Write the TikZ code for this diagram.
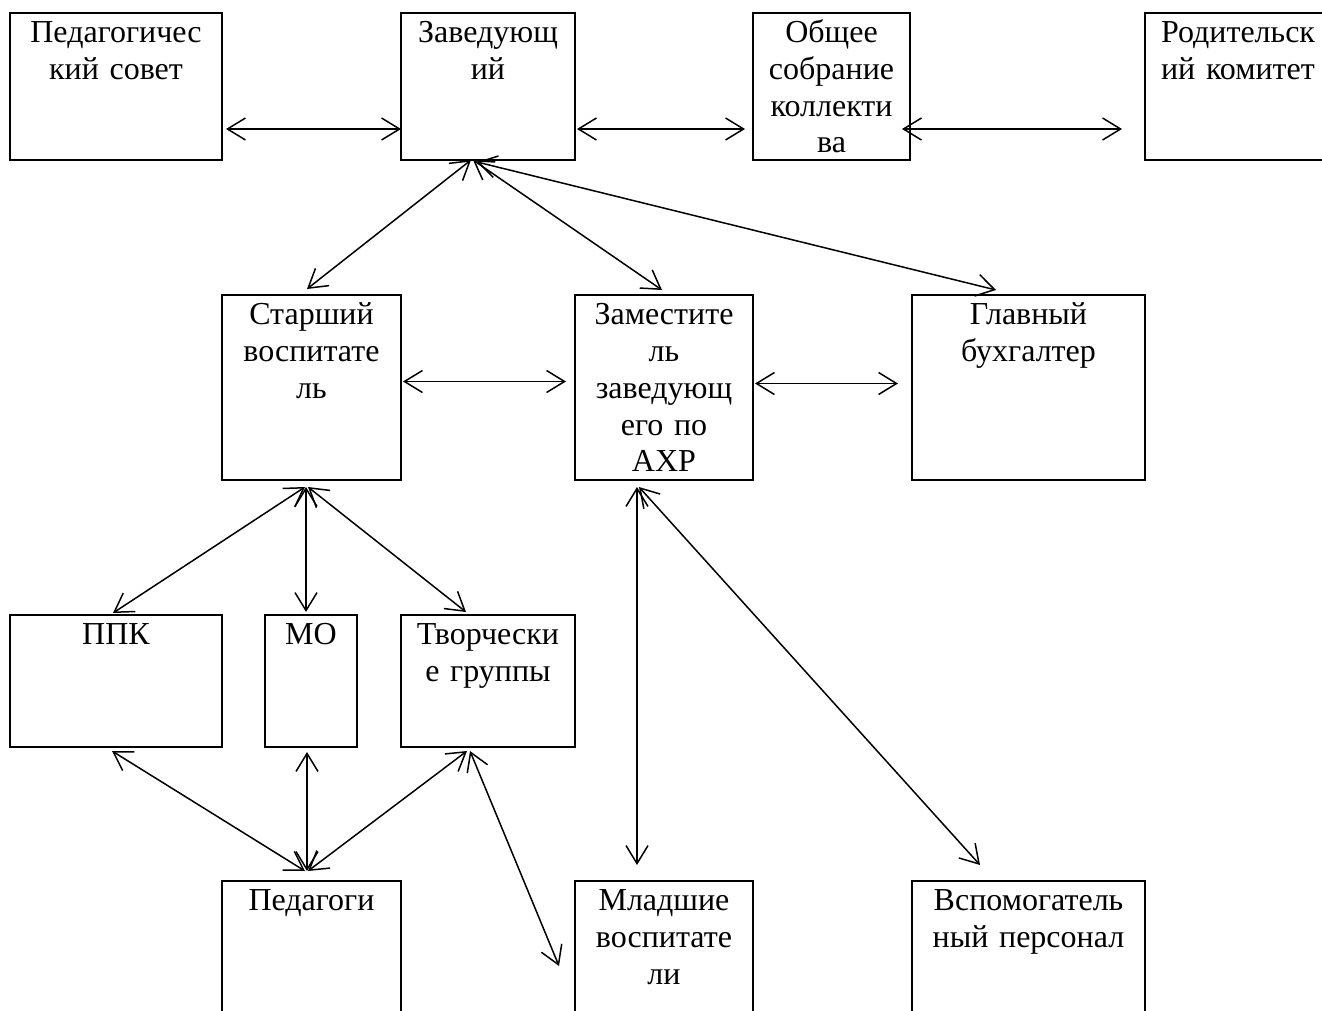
\documentclass[tikz,border=0pt]{standalone}
\usepackage{fontspec}
\setmainfont{Liberation Serif}
\usetikzlibrary{arrows.meta,fit}
\tikzset{
  orgbox/.style={draw, line width=1.3pt, inner sep=0pt, outer sep=0pt},
  orglbl/.style={anchor=base, inner sep=0pt, align=center, text width=150pt,
    font=\fontsize{16pt}{18.4pt}\selectfont},
  link/.style={line width=0.75pt,
    {Straight Barb[length=9pt,width=11pt]}-{Straight Barb[length=9pt,width=11pt]}},
}
\newcommand\orgnode[6]{%
  \node[orgbox, fit={(#2,#3) (#4,#5)}] (#1) {};
  \node[orglbl] (#1t) at ([yshift=-14.8pt]#1.north) {#6};
}
\begin{document}
\begin{tikzpicture}[x=0.5pt,y=-0.5pt]
\useasboundingbox (0,0) rectangle (1322,1011);
\clip (0,0) rectangle (1322,1011);
% top row
\orgnode{ps}{10}{13}{222}{160}{Педагогичес\\кий совет}
\orgnode{zav}{401}{13}{575}{160}{Заведующ\\ий}
\orgnode{obs}{753}{13}{910}{160}{Общее\\собрание\\коллекти\\ва}
\orgnode{rod}{1145}{13}{1331}{160}{Родительск\\ий комитет}
% second row
\orgnode{star}{222}{295}{401}{480}{Старший\\воспитате\\ль}
\orgnode{zam}{575}{295}{753}{480}{Заместите\\ль\\заведующ\\его по\\АХР}
\orgnode{glav}{912}{295}{1145}{480}{Главный\\бухгалтер}
% third row
\orgnode{ppk}{10}{615}{222}{747}{ППК}
\orgnode{mo}{265}{615}{357}{747}{МО}
\orgnode{tvor}{401}{615}{575}{747}{Творчески\\е группы}
% fourth row
\orgnode{ped}{222}{881}{401}{1060}{Педагоги}
\orgnode{mlad}{575}{881}{753}{1060}{Младшие\\воспитате\\ли}
\orgnode{vsp}{912}{881}{1145}{1060}{Вспомогатель\\ный персонал}
\coordinate (freeend) at ([shift={(-16,85)}]mlad.north west);
% connectors
\draw[link] ([shift={(4,-31)}]ps.south east) -- ([shift={(0,-31)}]zav.south west);
\draw[link] ([shift={(2,-31)}]zav.south east) -- ([shift={(-8,-31)}]obs.south west);
\draw[link] ([shift={(-8,-31)}]obs.south east) -- ([shift={(-23,-31)}]rod.south west);
\draw[link] ([shift={(70,0)}]zav.south west) -- ([shift={(85,-6)}]star.north west);
\draw[link] ([shift={(72,0)}]zav.south west) -- ([shift={(87,-5)}]zam.north west);
\draw[link] ([shift={(76,2)}]zav.south west) -- ([shift={(84,-5)}]glav.north west);
\draw[link] ([shift={(2,-6)}]star.east) -- ([shift={(-9,-6)}]zam.west);
\draw[link] ([shift={(2,-4)}]zam.east) -- ([shift={(-14,-4)}]glav.west);
\draw[link] ([shift={(83,7)}]star.south west) -- ([shift={(103,-2)}]ppk.north west);
\draw[link] ([shift={(84,7)}]star.south west) -- ([shift={(41,-3)}]mo.north west);
\draw[link] ([shift={(86,7)}]star.south west) -- ([shift={(65,-3)}]tvor.north west);
\draw[link] ([shift={(62,7)}]zam.south west) -- ([shift={(62,-16)}]mlad.north west);
\draw[link] ([shift={(64,7)}]zam.south west) -- ([shift={(68,-16)}]vsp.north west);
\draw[link] ([shift={(102,4)}]ppk.south west) -- ([shift={(83,-10)}]ped.north west);
\draw[link] ([shift={(42,5)}]mo.south west) -- ([shift={(85,-10)}]ped.north west);
\draw[link] ([shift={(66,4)}]tvor.south west) -- ([shift={(86,-10)}]ped.north west);
\draw[link] ([shift={(69,4)}]tvor.south west) -- (freeend);
\end{tikzpicture}
\end{document}
